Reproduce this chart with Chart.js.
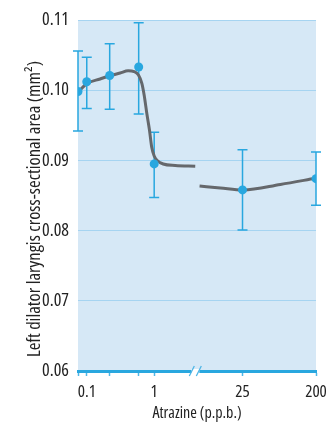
<!DOCTYPE html>
<html><head><meta charset="utf-8">
<script src="https://cdn.jsdelivr.net/npm/chart.js@4/dist/chart.umd.min.js"></script>
<style>html,body{margin:0;padding:0;background:#fff;overflow:hidden}</style>
</head><body>
<canvas id="c" width="327" height="424"></canvas>
<script>
// x axis: left segment is log10(dose), right segment continues after an axis break
const doseLabels = ['', '0.1', '', '', '1', '25', '200'];
const dosePos = [-1.13, -1.0, -0.66, -0.23, 0.0, 1.31, 2.40];
const meanArea = [0.0998, 0.1012, 0.1021, 0.1033, 0.0895, 0.0858, 0.0874];
const errHigh = [0.1056, 0.1047, 0.1066, 0.1096, 0.0940, 0.0915, 0.0912];
const errLow = [0.0942, 0.0974, 0.0973, 0.0966, 0.0847, 0.0801, 0.0836];
const fitLowX = [-1.129, -0.996, -0.802, -0.669, -0.505, -0.386, -0.297, -0.233, -0.183, -0.149, -0.108, -0.070, -0.037, 0.0, 0.045, 0.134, 0.312, 0.609];
const fitLowY = [0.09974, 0.10095, 0.10160, 0.10202, 0.10245, 0.10278, 0.10266, 0.10217, 0.10098, 0.09932, 0.09661, 0.09433, 0.09191, 0.09063, 0.08999, 0.08949, 0.08927, 0.08916];
const fitHighX = [0.673, 0.981, 1.318, 1.872, 2.392];
const fitHighY = [0.08635, 0.08607, 0.08578, 0.08657, 0.08745];
const breakPos = 0.61;
const yTitle = 'Left dilator laryngis cross-sectional area (mm\u00B2)';
const xTitle = 'Atrazine (p.p.b.)';

const FAMILY = "'Open Sans', 'Roboto', sans-serif";
const WEIGHT = '500 condensed';
const BLUE = '#29a7df';

const bgPlugin = {
  id: 'bg',
  beforeDraw(chart) {
    const {ctx, chartArea: a} = chart;
    ctx.save();
    ctx.fillStyle = '#d6e8f6';
    ctx.fillRect(a.left, a.top, a.right - a.left, a.bottom - a.top);
    ctx.restore();
  }
};
const errPlugin = {
  id: 'err',
  beforeDatasetsDraw(chart) {
    const {ctx, scales: {x, y}} = chart;
    ctx.save();
    ctx.strokeStyle = BLUE;
    ctx.lineWidth = 1.5;
    dosePos.forEach((p, i) => {
      const px = x.getPixelForValue(p);
      const y1 = y.getPixelForValue(errHigh[i]);
      const y2 = y.getPixelForValue(errLow[i]);
      ctx.beginPath();
      ctx.moveTo(px, y1); ctx.lineTo(px, y2);
      ctx.moveTo(px - 5, y1); ctx.lineTo(px + 5, y1);
      ctx.moveTo(px - 5, y2); ctx.lineTo(px + 5, y2);
      ctx.stroke();
    });
    ctx.restore();
  }
};
const overlayPlugin = {
  id: 'overlay',
  afterDraw(chart) {
    const {ctx, scales: {x}, chartArea: a} = chart;
    ctx.save();
    const bx = x.getPixelForValue(breakPos);
    const by = a.bottom;
    ctx.fillStyle = '#ffffff';
    ctx.fillRect(bx - 4, by - 2, 8, 4);
    ctx.strokeStyle = '#4fb6e6';
    ctx.lineWidth = 1.3;
    ctx.beginPath();
    ctx.moveTo(bx - 6, by + 5); ctx.lineTo(bx - 1, by - 5);
    ctx.moveTo(bx + 1, by + 5); ctx.lineTo(bx + 6, by - 5);
    ctx.stroke();
    // y axis title
    ctx.fillStyle = '#222';
    ctx.font = WEIGHT + ' 18.5px ' + FAMILY;
    ctx.textAlign = 'center';
    ctx.textBaseline = 'alphabetic';
    ctx.translate(40, 209);
    ctx.rotate(-Math.PI / 2);
    ctx.fillText(yTitle, 0, 0);
    ctx.restore();
  }
};

new Chart(document.getElementById('c'), {
  type: 'line',
  data: {
    datasets: [
      {
        data: dosePos.map((p, i) => ({x: p, y: meanArea[i]})),
        showLine: false, pointRadius: 4.5, pointHoverRadius: 4.5,
        pointBackgroundColor: BLUE, pointBorderWidth: 0, order: 1
      },
      {
        data: fitLowX.map((p, i) => ({x: p, y: fitLowY[i]})),
        borderColor: '#65686c', borderWidth: 3, pointRadius: 0,
        cubicInterpolationMode: 'monotone', borderCapStyle: 'butt', order: 2
      },
      {
        data: fitHighX.map((p, i) => ({x: p, y: fitHighY[i]})),
        borderColor: '#65686c', borderWidth: 3, pointRadius: 0,
        cubicInterpolationMode: 'monotone', borderCapStyle: 'butt', order: 2
      }
    ]
  },
  options: {
    responsive: false, devicePixelRatio: 1, animation: false,
    layout: {padding: {top: 20, right: 11, bottom: 0, left: 0}},
    plugins: {legend: {display: false}, tooltip: {enabled: false}},
    scales: {
      x: {
        type: 'linear', min: dosePos[0], max: dosePos[dosePos.length - 1],
        afterBuildTicks: s => { s.ticks = dosePos.map(v => ({value: v})); },
        afterFit: s => { s.height = 53; s.paddingLeft = 0; s.paddingRight = 0; },
        ticks: {
          callback: (v, i) => doseLabels[i], autoSkip: false, maxRotation: 0,
          color: '#222', padding: 6, font: {family: FAMILY, weight: WEIGHT, size: 17}
        },
        grid: {drawOnChartArea: false, drawTicks: true, tickLength: 5, tickColor: '#4fb6e6', tickWidth: 1.5},
        border: {color: BLUE, width: 3},
        title: {display: true, text: xTitle, color: '#222', padding: {top: 0, bottom: 1}, font: {family: FAMILY, weight: WEIGHT, size: 16}}
      },
      y: {
        min: 0.06, max: 0.11,
        afterFit: s => { s.width = 78; },
        ticks: {stepSize: 0.01, callback: v => v.toFixed(2), color: '#222', padding: 9, font: {family: FAMILY, weight: WEIGHT, size: 18}},
        grid: {color: '#a6d4f1', lineWidth: 1, drawTicks: false},
        border: {display: false}
      }
    }
  },
  plugins: [bgPlugin, errPlugin, overlayPlugin]
});
</script>
</body></html>
